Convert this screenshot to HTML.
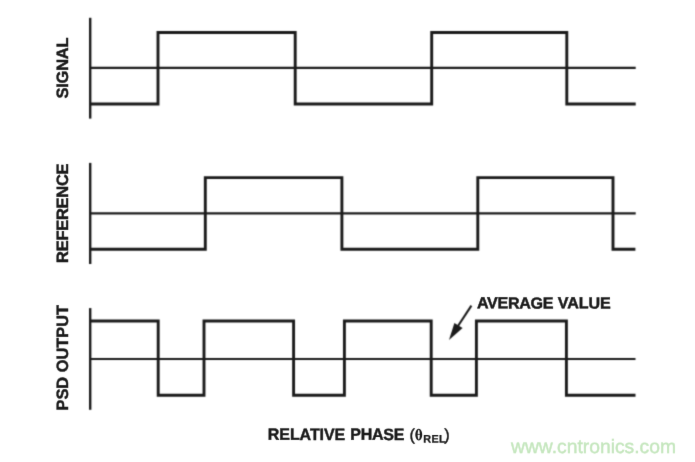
<!DOCTYPE html>
<html>
<head>
<meta charset="utf-8">
<style>
html,body{margin:0;padding:0;background:#fff;}
body{width:695px;height:462px;overflow:hidden;}
svg{display:block;}
text{font-family:"Liberation Sans", sans-serif;text-rendering:geometricPrecision;}
.lbl{font-weight:bold;font-size:15.5px;fill:#1a1a1a;stroke:#1a1a1a;stroke-width:0.3px;}
</style>
</head>
<body>
<svg style="will-change:transform" width="695" height="462" viewBox="0 0 695 462">
<defs>
<filter id="bl" x="0" y="0" width="695" height="462" filterUnits="userSpaceOnUse" color-interpolation-filters="sRGB"><feConvolveMatrix order="5" kernelMatrix="0.0000 0.0004 0.0017 0.0004 0.0000 0.0004 0.0274 0.1099 0.0274 0.0004 0.0017 0.1099 0.4407 0.1099 0.0017 0.0004 0.0274 0.1099 0.0274 0.0004 0.0000 0.0004 0.0017 0.0004 0.0000" divisor="1" edgeMode="duplicate"/></filter>
<filter id="bt" x="0" y="0" width="695" height="462" filterUnits="userSpaceOnUse" color-interpolation-filters="sRGB"><feConvolveMatrix order="5" kernelMatrix="0.0000 0.0000 0.0000 0.0000 0.0000 0.0000 0.0052 0.0619 0.0052 0.0000 0.0000 0.0619 0.7312 0.0619 0.0000 0.0000 0.0052 0.0619 0.0052 0.0000 0.0000 0.0000 0.0000 0.0000 0.0000" divisor="1" edgeMode="none"/></filter>
</defs>
<rect width="695" height="462" fill="#fff"/>
<g filter="url(#bl)">
<rect width="695" height="462" fill="#fff"/>
<g fill="none" stroke="#1a1a1a">
  <!-- SIGNAL -->
  <path d="M90.2 17.8V118.6" stroke-width="2.4"/>
  <path d="M90 67.8H635.7" stroke-width="2.2"/>
  <path d="M90 104H158V32.5H295.2V104H431.7V32.5H566.8V104H635.7" stroke-width="2.9"/>
  <!-- REFERENCE -->
  <path d="M90.2 162.9V264" stroke-width="2.4"/>
  <path d="M90 213.3H635.7" stroke-width="2.2"/>
  <path d="M90 249.3H205.3V177.6H341.9V249.3H477.8V177.6H613V249.3H635.4" stroke-width="2.9"/>
  <!-- PSD OUTPUT -->
  <path d="M90.2 308.1V409.8" stroke-width="2.4"/>
  <path d="M90 359H635.5" stroke-width="2.2"/>
  <path d="M90 321H158.2V395.2H204V321H293.6V395.2H344.4V321H431.2V395.2H476.4V321H566.4V395.2H635.5" stroke-width="2.9"/>
  <!-- arrow shaft -->
  <path d="M471.4 305.6L457 327.5" stroke-width="2.1"/>
</g>
<path d="M449 340L454.4 322.9L462.6 328Z" fill="#1a1a1a"/>
</g>
<g filter="url(#bt)">
<text x="511" y="453" font-size="19.3" fill="#c4e6bd" stroke="#c4e6bd" stroke-width="0.4">www.cntronics.com</text>
<text class="lbl" text-anchor="middle" letter-spacing="-0.17" transform="translate(67.8 68.1) rotate(-90)" style="font-size:16.4px;stroke-width:0.45px">SIGNAL</text>
<text class="lbl" text-anchor="middle" letter-spacing="-0.195" transform="translate(67.8 213.3) rotate(-90)" style="font-size:16.4px;stroke-width:0.45px">REFERENCE</text>
<text class="lbl" text-anchor="middle" letter-spacing="-0.02" transform="translate(67.8 357.75) rotate(-90)" style="font-size:16.4px;stroke-width:0.45px">PSD OUTPUT</text>
<text class="lbl" letter-spacing="-0.29" transform="translate(476.9 308.35) rotate(0.05) scale(1.012 1)" style="font-size:15.9px;stroke-width:0.45px">AVERAGE</text>
<text class="lbl" letter-spacing="-0.09" transform="translate(557.85 308.35) rotate(0.05) scale(1.012 1)" style="font-size:15.9px;stroke-width:0.45px">VALUE</text>
<text class="lbl" letter-spacing="-0.05" transform="translate(267.8 439.85) rotate(0.05) scale(0.981 1)" style="font-size:16.3px;stroke-width:0.45px">RELATIVE</text>
<text class="lbl" letter-spacing="-0.24" transform="translate(350.25 439.85) rotate(0.05) scale(0.981 1)" style="font-size:16.3px;stroke-width:0.45px">PHASE</text>
<text class="lbl" transform="translate(409.4 440.3) rotate(0.05)" style="font-weight:normal;font-size:16.3px;stroke-width:0.45px">(</text>
<path fill="#1a1a1a" fill-rule="evenodd" d="M418.75 428.8a3.45 5.85 0 1 0 0.001 0ZM418.75 429.85a1.1 4.8 0 1 1 -0.001 0Z"/>
<path d="M416.3 434.4H421.2" stroke="#1a1a1a" stroke-width="0.8"/>
<text class="lbl" transform="translate(423.3 442.6) rotate(0.05)" letter-spacing="0.3" style="font-size:10.8px;stroke-width:0.3px">REL</text>
<text class="lbl" transform="translate(444.3 440.3) rotate(0.05)" style="font-weight:normal;font-size:16.3px;stroke-width:0.45px">)</text>
</g>
</svg>
</body>
</html>
